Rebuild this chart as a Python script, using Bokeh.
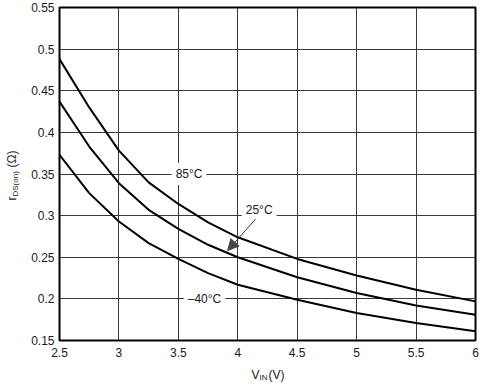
import math
from bokeh.plotting import figure
from bokeh.layouts import row, column
from bokeh.models import Range1d, FixedTicker, Label, Arrow, NormalHead
from bokeh.embed import file_html
from bokeh.resources import INLINE

# ---- data ----
vin = [2.5, 2.75, 3.0, 3.25, 3.5, 3.75, 4.0, 4.5, 5.0, 5.5, 6.0]
r_85 = [0.488, 0.430, 0.378, 0.340, 0.314, 0.292, 0.274, 0.248, 0.228, 0.211, 0.197]
r_25 = [0.437, 0.383, 0.339, 0.307, 0.284, 0.265, 0.250, 0.226, 0.207, 0.192, 0.181]
r_m40 = [0.373, 0.327, 0.293, 0.267, 0.248, 0.231, 0.217, 0.199, 0.183, 0.171, 0.161]

x_ticks = [2.5, 3.0, 3.5, 4.0, 4.5, 5.0, 5.5, 6.0]
x_tick_labels = ["2.5", "3", "3.5", "4", "4.5", "5", "5.5", "6"]
y_ticks = [0.15, 0.2, 0.25, 0.3, 0.35, 0.4, 0.45, 0.5, 0.55]
y_tick_labels = ["0.15", "0.2", "0.25", "0.3", "0.35", "0.4", "0.45", "0.5", "0.55"]

curve_labels = ["85°C", "25°C", "–40°C"]
curve_label_x = [3.59, 4.18, 3.72]
curve_label_y = [0.35, 0.307, 0.20]

FONT = "Liberation Sans"
TXT = "#1a1a1a"

YW = 20          # width of the strip holding the y-axis title
MAIN_W, MAIN_H = 462, 362
XH = 28          # height of the strip holding the x-axis title

# ---------------- main plot ----------------
p = figure(width=MAIN_W, height=MAIN_H, output_backend="svg", toolbar_location=None,
           x_range=Range1d(2.5, 6.0), y_range=Range1d(0.15, 0.55),
           min_border_left=59 - YW, min_border_right=7, min_border_top=7, min_border_bottom=22)
p.background_fill_color = "white"
p.border_fill_color = "white"
p.outline_line_color = "black"
p.outline_line_width = 2

p.xaxis.ticker = FixedTicker(ticks=x_ticks)
p.yaxis.ticker = FixedTicker(ticks=y_ticks)
p.xaxis.major_label_overrides = dict(zip(x_ticks, x_tick_labels))
p.yaxis.major_label_overrides = dict(zip(y_ticks, y_tick_labels))
for ax in (p.xaxis[0], p.yaxis[0]):
    ax.axis_line_color = None
    ax.major_tick_line_color = None
    ax.minor_tick_line_color = None
    ax.major_tick_out = 0
    ax.major_tick_in = 0
    ax.major_label_text_font = FONT
    ax.major_label_text_font_size = "12px"
    ax.major_label_text_color = TXT
p.xaxis.major_label_standoff = 7
p.yaxis.major_label_standoff = 5

p.xgrid.ticker = FixedTicker(ticks=x_ticks)
p.ygrid.ticker = FixedTicker(ticks=y_ticks)
p.grid.grid_line_color = "#3a3a3a"
p.grid.grid_line_width = 1
p.grid.grid_line_alpha = 1.0

for ys in (r_85, r_25, r_m40):
    p.line(vin, ys, line_color="black", line_width=2)

for t, lx, ly in zip(curve_labels, curve_label_x, curve_label_y):
    p.add_layout(Label(x=lx, y=ly, text=t, text_align="center", text_baseline="middle",
                       text_font=FONT, text_font_size="12px", text_color=TXT,
                       background_fill_color="white", padding=4))

p.add_layout(Arrow(x_start=4.15, y_start=0.296, x_end=3.915, y_end=0.258,
                   line_color="#333333", line_width=1,
                   end=NormalHead(size=11, fill_color="#444444", line_color="#444444")))


def strip(w, h):
    f = figure(width=w, height=h, output_backend="svg", toolbar_location=None,
               x_range=Range1d(0, 1), y_range=Range1d(0, 1),
               x_axis_location=None, y_axis_location=None,
               min_border=0, min_border_left=0, min_border_right=0,
               min_border_top=0, min_border_bottom=0)
    f.grid.visible = False
    f.outline_line_color = None
    f.background_fill_color = "white"
    f.border_fill_color = "white"
    return f


def canvas_label(x, y, text, size, angle=0.0):
    return Label(x=x, y=y, x_units="canvas", y_units="canvas", text=text,
                 text_align="left", text_baseline="middle", angle=angle,
                 text_font=FONT, text_font_size=size, text_color=TXT)

# ---------------- y-axis title strip: r_DS(on) (Ω) ----------------
ys_fig = strip(YW, MAIN_H)
ys_fig.add_layout(canvas_label(11, 200, "r", "12px", math.pi / 2))
ys_fig.add_layout(canvas_label(15, 196, "DS(on)", "8px", math.pi / 2))
ys_fig.add_layout(canvas_label(11, 167, "(Ω)", "12px", math.pi / 2))

# ---------------- x-axis title strip: V_IN (V) ----------------
xs_fig = strip(YW + MAIN_W, XH)
xs_fig.add_layout(canvas_label(251, 12, "V", "12px"))
xs_fig.add_layout(canvas_label(259, 15, "IN", "8px"))
xs_fig.add_layout(canvas_label(268, 12, "(V)", "12px"))

layout = column(row(ys_fig, p, spacing=0), xs_fig, spacing=0)

open("out.html", "w").write(file_html(layout, INLINE))
